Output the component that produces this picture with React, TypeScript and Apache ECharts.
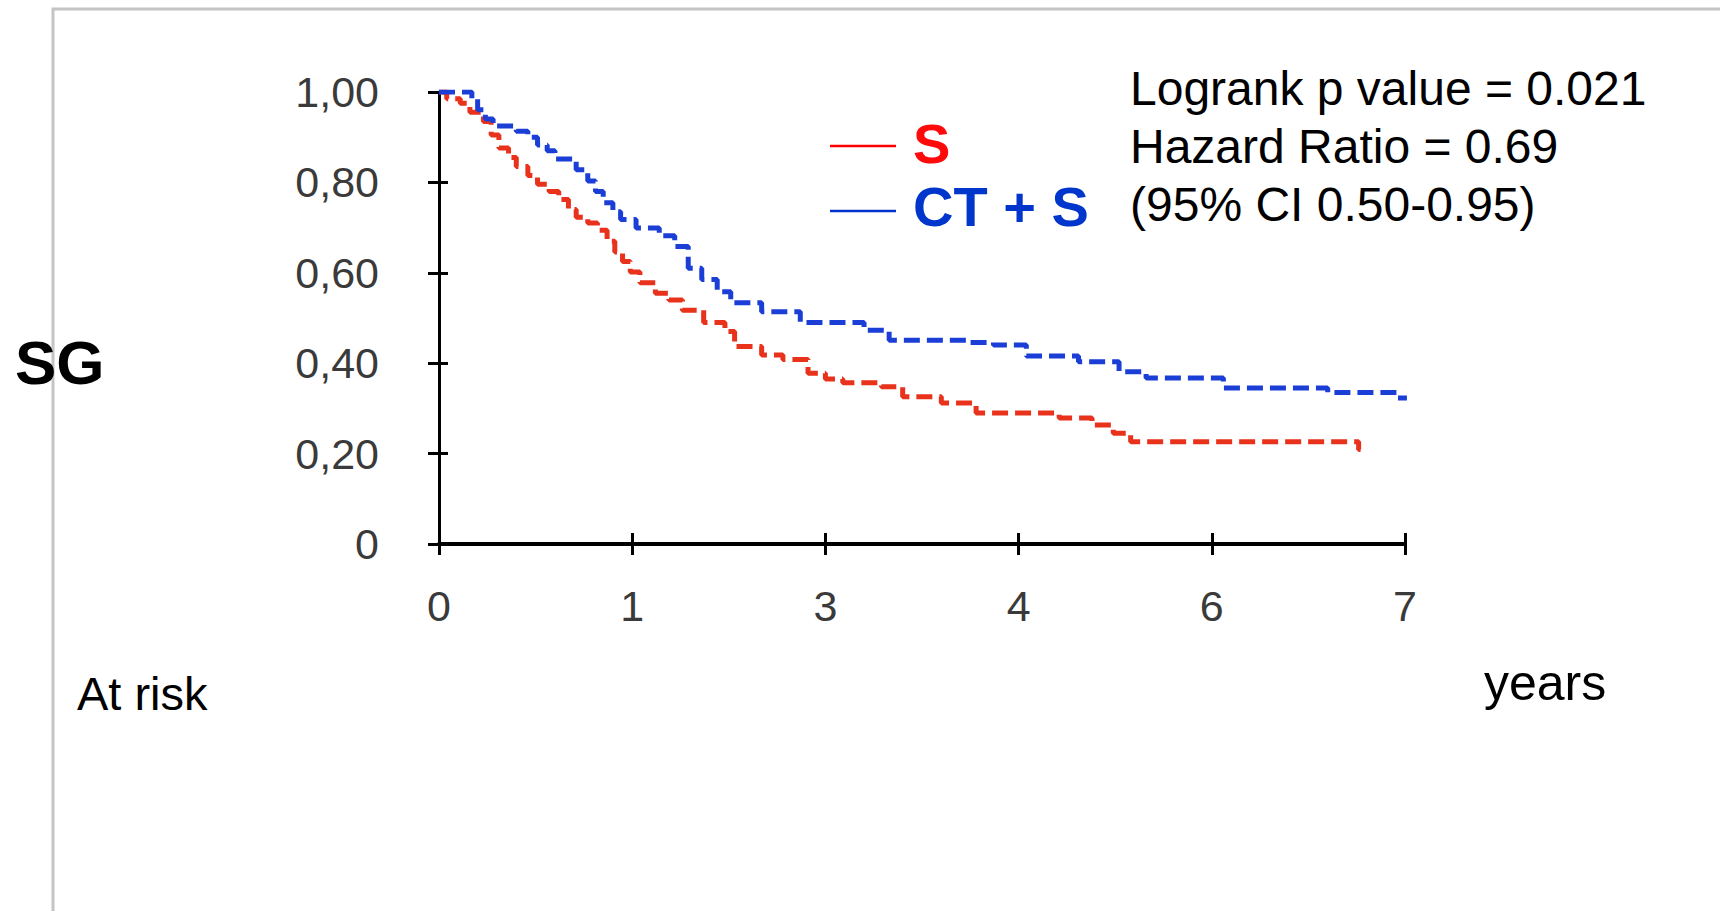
import React, { useEffect, useRef } from "react";
import * as echarts from "echarts";

// x positions are in axis-tick units (ticks labelled 0,1,3,4,6,7 are evenly spaced)
const xTickLabels = ["0", "1", "3", "4", "6", "7"];
const yTickLabels = ["0", "0,20", "0,40", "0,60", "0,80", "1,00"];

const sTime = [0, 0.04, 0.11, 0.16, 0.23, 0.27, 0.31, 0.36, 0.4, 0.46, 0.51, 0.57, 0.62, 0.67, 0.71, 0.77, 0.82, 0.87, 0.91, 0.95, 0.99, 1.04, 1.12, 1.19, 1.26, 1.37, 1.48, 1.53, 1.67, 1.78, 1.91, 2.0, 2.09, 2.29, 2.4, 2.6, 2.78, 3.21, 3.38, 3.49, 3.58, 4.76, 4.77];
const sSurv = [1.0, 0.985, 0.975, 0.955, 0.935, 0.905, 0.876, 0.855, 0.835, 0.815, 0.796, 0.78, 0.762, 0.74, 0.723, 0.71, 0.694, 0.67, 0.646, 0.625, 0.602, 0.578, 0.555, 0.54, 0.517, 0.49, 0.47, 0.437, 0.418, 0.408, 0.378, 0.365, 0.357, 0.348, 0.326, 0.312, 0.29, 0.279, 0.263, 0.245, 0.226, 0.209, 0.209];

const ctsTime = [0, 0.17, 0.2, 0.24, 0.28, 0.4, 0.46, 0.51, 0.56, 0.6, 0.71, 0.77, 0.81, 0.85, 0.9, 0.94, 1.02, 1.14, 1.22, 1.29, 1.36, 1.44, 1.51, 1.67, 1.87, 2.2, 2.33, 2.73, 2.87, 3.04, 3.31, 3.52, 3.66, 4.06, 4.6, 4.96, 5.01];
const ctsSurv = [1.0, 0.985, 0.961, 0.94, 0.925, 0.913, 0.9, 0.883, 0.87, 0.852, 0.828, 0.803, 0.78, 0.755, 0.735, 0.718, 0.699, 0.682, 0.658, 0.61, 0.585, 0.558, 0.534, 0.514, 0.49, 0.473, 0.451, 0.446, 0.44, 0.416, 0.403, 0.381, 0.367, 0.345, 0.335, 0.323, 0.323];

const seriesNames = ["S", "CT + S"];
const statLines = ["Logrank p value = 0.021", "Hazard Ratio = 0.69", "(95% CI 0.50-0.95)"];

const RED = "#e8321c";
const BLUE = "#1b3fd6";

export default function App() {
  const ref = useRef<HTMLDivElement>(null);
  useEffect(() => {
    if (!ref.current) return;
    const chart = echarts.init(ref.current, null, { renderer: "svg" });
    const toPairs = (t: number[], s: number[]) => t.map((v, i) => [v, s[i]]);
    const labelStyle = {
      color: "#3a3a3a",
      fontFamily: "Liberation Sans, Arial, sans-serif",
      fontSize: 43,
    };
    const baseX = {
      type: "value",
      min: 0,
      max: 5,
      interval: 1,
      splitLine: { show: false },
    };
    const baseY = {
      type: "value",
      min: 0,
      max: 1,
      interval: 0.2,
      splitLine: { show: false },
    };
    chart.setOption({
      animation: false,
      backgroundColor: "#ffffff",
      grid: { left: 439, top: 92, width: 966, height: 452 },
      xAxis: [
        {
          ...baseX,
          position: "bottom",
          axisLine: { show: true, lineStyle: { color: "#000", width: 4 } },
          axisTick: { show: true, inside: false, length: 11, lineStyle: { color: "#000", width: 3 } },
          axisLabel: {
            ...labelStyle,
            margin: 40,
            formatter: (v: number) => xTickLabels[Math.round(v)] ?? "",
          },
        },
        {
          ...baseX,
          position: "bottom",
          axisLine: { show: false },
          axisTick: { show: true, inside: true, length: 11, lineStyle: { color: "#000", width: 3 } },
          axisLabel: { show: false },
        },
      ],
      yAxis: [
        {
          ...baseY,
          position: "left",
          axisLine: { show: true, lineStyle: { color: "#000", width: 3 } },
          axisTick: { show: true, inside: false, length: 11, lineStyle: { color: "#000", width: 3 } },
          axisLabel: {
            ...labelStyle,
            margin: 60,
            formatter: (v: number) => yTickLabels[Math.round(v / 0.2)] ?? "",
          },
        },
        {
          ...baseY,
          position: "left",
          axisLine: { show: false },
          axisTick: { show: true, inside: true, length: 9, lineStyle: { color: "#000", width: 3 } },
          axisLabel: { show: false },
        },
      ],
      series: [
        {
          name: seriesNames[0],
          type: "line",
          step: "end",
          showSymbol: false,
          data: toPairs(sTime, sSurv),
          lineStyle: { color: RED, width: 5, type: [16, 7] },
          z: 3,
        },
        {
          name: seriesNames[1],
          type: "line",
          step: "end",
          showSymbol: false,
          data: toPairs(ctsTime, ctsSurv),
          lineStyle: { color: BLUE, width: 5, type: [16, 7] },
          z: 3,
        },
      ],
      graphic: [
        {
          type: "rect",
          shape: { x: 53, y: 9, width: 1800, height: 1000 },
          style: { fill: "none", stroke: "#c4c4c4", lineWidth: 3 },
          silent: true,
        },
        {
          type: "text",
          x: 15,
          y: 362,
          style: {
            text: "SG",
            font: "bold 62px 'Liberation Sans', Arial, sans-serif",
            fill: "#000",
            verticalAlign: "middle",
          },
        },
        {
          type: "line",
          shape: { x1: 830, y1: 146, x2: 896, y2: 146 },
          style: { stroke: "#ff0000", lineWidth: 2.5 },
        },
        {
          type: "text",
          x: 913,
          y: 143,
          style: {
            text: seriesNames[0],
            font: "bold 56px 'Liberation Sans', Arial, sans-serif",
            fill: "#ff0a0a",
            verticalAlign: "middle",
          },
        },
        {
          type: "line",
          shape: { x1: 830, y1: 211, x2: 896, y2: 211 },
          style: { stroke: "#0033cc", lineWidth: 2.5 },
        },
        {
          type: "text",
          x: 913,
          y: 206,
          style: {
            text: seriesNames[1],
            font: "bold 56px 'Liberation Sans', Arial, sans-serif",
            fill: "#0036cc",
            verticalAlign: "middle",
          },
        },
        ...statLines.map((t, i) => ({
          type: "text",
          x: 1130,
          y: 88 + i * 58,
          style: {
            text: t,
            font: "48px 'Liberation Sans', Arial, sans-serif",
            fill: "#000",
            verticalAlign: "middle",
          },
        })),
        {
          type: "text",
          x: 77,
          y: 693,
          style: {
            text: "At risk",
            font: "47px 'Liberation Sans', Arial, sans-serif",
            fill: "#000",
            verticalAlign: "middle",
          },
        },
        {
          type: "text",
          x: 1484,
          y: 683,
          style: {
            text: "years",
            font: "50px 'Liberation Sans', Arial, sans-serif",
            fill: "#000",
            verticalAlign: "middle",
          },
        },
      ],
    });
    return () => chart.dispose();
  }, []);
  return (
    <div
      ref={ref}
      style={{ position: "fixed", left: 0, top: 0, width: 1720, height: 911 }}
    />
  );
}
